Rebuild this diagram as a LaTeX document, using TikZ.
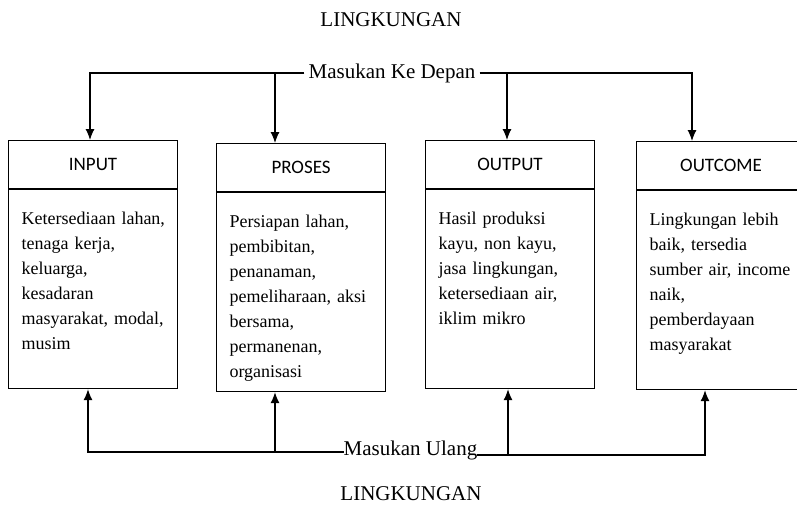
\documentclass[tikz,border=0pt]{standalone}
\usepackage{fontspec}
\setmainfont{Liberation Serif}
\newfontfamily\kepalafont{Carlito}
\usetikzlibrary{positioning}
\usetikzlibrary{arrows.meta}

\newcommand{\tanpaputus}{\hyphenpenalty=10000\relax\exhyphenpenalty=10000\relax\hbadness=10000\relax\hfuzz=20pt\relax}

\tikzset{
  kepala/.style={draw,line width=1.1pt,minimum width=169pt,minimum height=48pt,inner sep=0pt,anchor=north west,font=\kepalafont\fontsize{19}{23}\selectfont},
  isi/.style={draw,line width=1.1pt,text width=143pt,inner xsep=13pt,inner ysep=0pt,align=left,text height=35pt,text depth=164pt,font=\fontsize{18}{25}\selectfont\tanpaputus},
  panah/.style={line width=1.1pt,-{Latex[length=11pt,width=9pt]}}
}

\begin{document}
\begin{tikzpicture}[x=1pt,y=-1pt]
\useasboundingbox (0,0) rectangle (797,507);
\clip (0,0) rectangle (797,507);

\node[font=\fontsize{21}{25}\selectfont] (lingatas) at (391,20) {LINGKUNGAN};
\node[font=\fontsize{21}{25}\selectfont] (lingbawah) at (411,494) {LINGKUNGAN};

% kotak
\node[kepala] (in_h) at (8,140) {INPUT};
\node[isi,below=0pt of in_h] (in_b) {Ketersediaan~lahan,\\ tenaga kerja,\\ keluarga,\\ kesadaran\\ masyarakat,~modal,\\ musim};
\node[kepala] (pr_h) at (216,143) {PROSES};
\node[isi,below=0pt of pr_h] (pr_b) {Persiapan lahan,\\ pembibitan,\\ penanaman,\\ pemeliharaan,~aksi\\ bersama,\\ permanenan,\\ organisasi};
\node[kepala] (out_h) at (425,140) {OUTPUT};
\node[isi,below=0pt of out_h] (out_b) {Hasil produksi\\ kayu, non kayu,\\ jasa lingkungan,\\ ketersediaan air,\\ iklim mikro};
\node[kepala] (oc_h) at (636,141) {OUTCOME};
\node[isi,below=0pt of oc_h] (oc_b) {Lingkungan lebih\\ baik, tersedia\\ sumber~air,~income\\ naik,\\ pemberdayaan\\ masyarakat};

% masukan ke depan
\node[font=\fontsize{21}{25}\selectfont,inner sep=4pt] (depan) at (392,73) {Masukan Ke Depan};
\coordinate (fa) at (90,73);
\coordinate (fb) at (275,73);
\coordinate (fc) at (507,73);
\coordinate (fd) at (692,73);
\draw[panah] (depan.west) -| (fa |- in_h.north);
\draw[panah] (fb) -- (fb |- pr_h.north);
\draw[panah] (depan.east) -| (fd |- oc_h.north);
\draw[panah] (fc) -- (fc |- out_h.north);

% masukan ulang
\node[font=\fontsize{21}{25}\selectfont,inner sep=0pt,anchor=base] (ulang) at (410.5,455) {Masukan Ulang};
\coordinate (ba) at (88,452);
\coordinate (bb) at (275,452);
\coordinate (bc) at (508,455);
\coordinate (bd) at (705,455);
\draw[panah] ([yshift=3pt]ulang.base west) -| (ba |- in_b.south);
\draw[panah] (bb) -- (bb |- pr_b.south);
\draw[panah] (ulang.base east) -| (bd |- oc_b.south);
\draw[panah] (bc) -- (bc |- out_b.south);

\end{tikzpicture}
\end{document}
